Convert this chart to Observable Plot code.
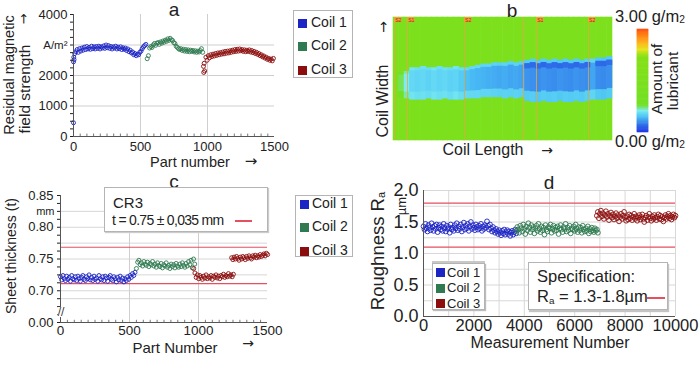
<!DOCTYPE html>
<html><head><meta charset="utf-8">
<script src="https://cdn.jsdelivr.net/npm/d3@7"></script>
<script src="https://cdn.jsdelivr.net/npm/@observablehq/plot@0.6"></script>
<style>
html,body{margin:0;padding:0;background:#fff;}
#chart{position:relative;width:700px;height:371px;overflow:hidden;background:#fff;font-family:"Liberation Sans",Arial,Helvetica,sans-serif;color:#222;}
#chart svg{position:absolute;overflow:visible;}
.lbl{position:absolute;white-space:nowrap;transform-origin:center;line-height:1;}
.box{position:absolute;background:#fff;border:1px solid #b4b4b4;box-sizing:border-box;}
.sw{position:absolute;}
</style></head><body><div id="chart"></div>
<script>
// ---------- shared ----------
const coils = ["Coil 1", "Coil 2", "Coil 3"];
const coilColors = ["#1c24c4", "#2f7a50", "#8c0d0d"];
const partTicks = [0, 500, 1000, 1500];
const partMinor = [50,100,150,200,250,300,350,400,450,550,600,650,700,750,800,850,900,950,1050,1100,1150,1200,1250,1300,1350,1400,1450];

// ---------- panel a : residual magnetic field strength ----------
const fieldStart = [0, 550, 970];
const fieldStep = 9;
const coil1Field = [2450,2720,2780,2850,2760,2880,2800,2900,2830,2930,2850,2950,2870,2920,2860,2960,2880,2940,2870,2950,
  2890,2960,2870,2940,2900,2970,2890,3000,2910,2980,2890,2950,2870,2940,2900,2960,2870,2930,2880,2940,
  2850,2910,2860,2900,2820,2870,2780,2830,2740,2770,2680,2720,2650,2700,2680,2760,2800,2880,2940,2980,3020];
const coil2Field = [2550,2650,2900,2950,2920,3000,3050,2990,3060,3080,3020,3100,3060,3130,3090,3160,3120,3200,3150,3220,
  3170,3150,3080,3050,2960,2920,2880,2850,2880,2820,2860,2800,2850,2790,2840,2780,2830,2790,2820,2770,
  2810,2760,2800,2770,2820,2880,2760];
const coil3Field = [2300,2150,2600,2500,2650,2580,2680,2620,2700,2640,2720,2660,2740,2680,2750,2700,2770,2710,2790,2730,
  2800,2740,2810,2760,2830,2780,2850,2790,2860,2800,2870,2810,2850,2790,2840,2780,2830,2790,2840,2770,
  2820,2750,2790,2720,2760,2690,2720,2650,2680,2610,2640,2570,2600,2530,2560,2500,2540,2480,2560];
const fieldExtraPart = [0, 2, 4, 972, 975];
const fieldExtraValue = [450, 2600, 2520, 2100, 2400];
const fieldExtraCoil = [0, 0, 0, 2, 2];
const fieldTicks = [0, 1000, 2000, 4000];
const fieldUnitTick = [3000];
const fieldMinor = [250,500,750,1250,1500,1750,2250,2500,2750,3250,3500,3750];

// ---------- panel b : lubricant map ----------
const lengthStep = 2.5; // % of coil length per column
const bandLow  = [null,35,34,33,33,33,34,33,33,34,33,33,33,34,34,34,35,35,35,35,34,35,34,35,32,31,31,32,31,31,32,31,31,32,31,32,33,33,33,34];
const bandHigh = [null,55,56,59,59,60,59,59,60,59,59,60,59,59,60,61,62,62,63,63,63,64,63,64,65,66,65,66,65,66,65,66,65,66,65,66,66,67,67,68];
const bandEdge = [null,0.80,0.68,0.58,0.56,0.57,0.55,0.58,0.56,0.57,0.55,0.58,0.55,0.54,0.53,0.53,0.52,0.52,0.51,0.50,0.51,0.50,0.51,0.50,0.48,0.49,0.47,0.49,0.48,0.49,0.47,0.49,0.48,0.49,0.48,0.50,0.52,0.47,0.46,0.48];
const bandCore = [null,0.74,0.62,0.53,0.52,0.53,0.51,0.54,0.52,0.53,0.51,0.52,0.48,0.44,0.42,0.41,0.40,0.39,0.38,0.37,0.38,0.36,0.37,0.35,0.31,0.30,0.29,0.31,0.30,0.29,0.31,0.30,0.29,0.31,0.30,0.29,0.36,0.29,0.28,0.30];
const bandStripe = [null,null,null,null,null,null,null,null,null,null,null,null,null,null,null,null,null,null,null,null,null,null,null,null,0.20,0.19,0.20,0.18,0.20,0.19,0.18,0.20,0.19,0.18,0.20,0.19,null,0.19,0.18,0.20];
const lubricantBackground = 1.5;
const markerPos = [0.5, 6.4, 32.4, 59.4, 65.3, 89.0];
const markerLabel = ["S2", "S1", "S2", "", "S1", "S2"];
const lubricantColor = {
  type: "linear", interpolate: "rgb",
  domain: [0, 0.2, 0.45, 0.62, 0.78, 2.2, 2.4, 2.6, 2.85, 3.0],
  range: ["#1f36e6", "#2f6ee8", "#4cc4f6", "#7cecf0", "#72e024", "#86e016", "#e6e41e", "#ffb21e", "#ff7a10", "#ff4a10"]
};

// ---------- panel c : sheet thickness ----------
const thickStart = [0, 550, 965, 1240];
const thickStep = 9;
const coil1Thickness = [0.722,0.717,0.724,0.719,0.716,0.723,0.718,0.721,0.715,0.724,0.719,0.717,0.722,0.716,0.723,0.719,0.715,0.721,0.724,0.718,
  0.716,0.722,0.719,0.725,0.717,0.721,0.716,0.723,0.718,0.720,0.715,0.724,0.719,0.717,0.722,0.716,0.723,0.720,0.715,0.721,
  0.724,0.718,0.716,0.722,0.719,0.714,0.721,0.717,0.723,0.716,0.720,0.714,0.719,0.716,0.722,0.718,0.724,0.721,0.727,0.724,0.729];
const coil2Thickness = [0.735,0.745,0.748,0.741,0.744,0.739,0.746,0.742,0.740,0.745,0.738,0.743,0.741,0.746,0.739,0.742,0.737,0.744,0.740,0.738,
  0.743,0.736,0.741,0.739,0.744,0.737,0.740,0.735,0.742,0.738,0.741,0.736,0.743,0.739,0.737,0.742,0.738,0.744,0.740,0.737,
  0.743,0.739,0.746,0.741,0.748,0.736,0.750,0.742];
const coil3aThickness = [0.735,0.728,0.721,0.725,0.719,0.724,0.721,0.718,0.723,0.720,0.725,0.719,0.722,0.720,0.724,0.718,0.723,0.721,0.725,0.720,
  0.723,0.719,0.724,0.722,0.726,0.721,0.724,0.722,0.727,0.723,0.725,0.722,0.726];
const coil3bThickness = [0.752,0.749,0.753,0.750,0.754,0.751,0.748,0.753,0.750,0.754,0.752,0.749,0.754,0.751,0.755,0.752,0.750,0.755,0.753,0.756,
  0.752,0.755,0.753,0.757,0.754,0.756,0.758,0.755,0.759,0.757];
const thickTolerance = [0.7686, 0.7112];
const thickTicks = [0.70, 0.75, 0.80, 0.85];
const thickBreakTick = [0.65]; // drawn as "0.00" below the axis break
const thickUnitTick = [0.825];
const thickGrid = [0.6875, 0.70, 0.725, 0.75, 0.775, 0.80, 0.825];
const thickMinor = [0.6625,0.675,0.6875,0.7125,0.725,0.7375,0.7625,0.775,0.7875,0.8125,0.825,0.8375];

// ---------- panel d : roughness ----------
const roughStart = [0, 3680, 6880];
const roughStep = 40;
const coil1Rough = [1.43,1.38,1.47,1.40,1.35,1.45,1.41,1.37,1.48,1.42,1.36,1.44,1.39,1.46,1.34,1.41,1.45,1.38,1.43,1.36,
  1.47,1.40,1.35,1.44,1.39,1.42,1.33,1.46,1.38,1.41,1.36,1.45,1.40,1.48,1.37,1.43,1.39,1.46,1.35,1.42,
  1.49,1.38,1.44,1.40,1.47,1.36,1.43,1.50,1.39,1.45,1.41,1.37,1.46,1.42,1.38,1.44,1.40,1.47,1.36,1.43,
  1.39,1.45,1.41,1.51,1.44,1.38,1.46,1.40,1.35,1.42,1.37,1.33,1.39,1.35,1.31,1.37,1.33,1.29,1.36,1.32,
  1.38,1.30,1.34,1.37,1.31,1.35,1.28,1.33,1.36,1.30,1.34,1.38,1.32];
const coil2Rough = [1.36,1.42,1.38,1.33,1.44,1.40,1.35,1.46,1.39,1.31,1.43,1.37,1.48,1.41,1.34,1.45,1.38,1.42,1.32,1.40,
  1.44,1.36,1.47,1.39,1.34,1.43,1.37,1.41,1.30,1.45,1.38,1.35,1.42,1.40,1.46,1.33,1.39,1.44,1.36,1.41,
  1.37,1.43,1.31,1.40,1.45,1.38,1.34,1.42,1.39,1.47,1.35,1.41,1.37,1.44,1.32,1.40,1.38,1.43,1.36,1.46,
  1.39,1.34,1.42,1.37,1.41,1.33,1.44,1.38,1.35,1.40,1.36,1.43,1.32,1.39,1.35,1.41,1.37,1.34,1.40,1.36,
  1.38,1.33];
const coil3Rough = [1.60,1.66,1.56,1.63,1.68,1.59,1.64,1.55,1.61,1.67,1.58,1.63,1.53,1.60,1.65,1.57,1.62,1.54,1.59,1.64,
  1.56,1.61,1.51,1.58,1.63,1.55,1.60,1.66,1.57,1.52,1.59,1.54,1.62,1.56,1.60,1.53,1.58,1.63,1.55,1.59,
  1.52,1.57,1.61,1.54,1.58,1.62,1.55,1.50,1.57,1.60,1.53,1.58,1.63,1.56,1.52,1.59,1.55,1.61,1.57,1.53,
  1.58,1.62,1.55,1.60,1.54,1.58,1.51,1.57,1.61,1.55,1.59,1.63,1.56,1.60,1.54,1.58,1.62,1.57,1.60];
const roughLimits = [1.8, 1.1];
const roughTicks = [0, 0.5, 1.0, 1.5, 2.0];
const measTicks = [0, 2000, 4000, 6000, 8000, 10000];
const measGrid = [1000,2000,3000,4000,5000,6000,7000,8000,9000,10000];
const roughGrid = [0.25,0.5,0.75,1.0,1.25,1.5,1.75,2.0];

// ---------- helpers ----------
const FONT = '"Liberation Sans", Arial, Helvetica, sans-serif';
const NARROW = '"Liberation Sans Narrow", "Arial Narrow", "Liberation Sans", Arial, sans-serif';
const root = document.getElementById("chart");
const plain = d => String(d);
function put(svg, x, y) { svg.style.left = x + "px"; svg.style.top = y + "px"; root.appendChild(svg); }
function label(html, cx, cy, size, o = {}) {
  const d = document.createElement("div");
  d.className = "lbl";
  d.innerHTML = html;
  d.style.fontSize = size + "px";
  d.style.left = cx + "px"; d.style.top = cy + "px";
  const tx = o.left ? "translate(0,-50%)" : "translate(-50%,-50%)";
  d.style.transform = tx + (o.rotate ? ` rotate(${o.rotate}deg)` : "");
  if (o.family) d.style.fontFamily = o.family;
  if (o.color) d.style.color = o.color;
  if (o.ls) d.style.letterSpacing = o.ls;
  if (o.bg) d.style.background = o.bg;
  root.appendChild(d);
  return d;
}
function box(x, y, w, h, shadow) {
  const b = document.createElement("div");
  b.className = "box";
  Object.assign(b.style, {left: x + "px", top: y + "px", width: w + "px", height: h + "px"});
  if (shadow) b.style.boxShadow = shadow;
  root.appendChild(b);
}
function swatch(x, cy, s, color) {
  const q = document.createElement("div");
  q.className = "sw";
  Object.assign(q.style, {left: x + "px", top: (cy - s / 2) + "px", width: s + "px", height: s + "px", background: color});
  root.appendChild(q);
}
function redline(x1, x2, y, c) {
  const q = document.createElement("div");
  q.className = "sw";
  Object.assign(q.style, {left: x1 + "px", top: (y - 0.75) + "px", width: (x2 - x1) + "px", height: "1.5px", background: c});
  root.appendChild(q);
}
function series(values, start, step, coil, xk, yk) {
  return values.map((v, i) => ({[xk]: start + i * step, [yk]: v, coil}));
}
const coilColor = {domain: coils, range: coilColors};
const baseStyle = {fontFamily: FONT, background: "transparent", color: "#222", overflow: "visible"};
const GRID = "#cfcfcf";
const AX = "#555";
const RED = "#e5505f";

// ---------- panel a ----------
const fieldData = [
  ...series(coil1Field, fieldStart[0], fieldStep, coils[0], "part", "value"),
  ...series(coil2Field, fieldStart[1], fieldStep, coils[1], "part", "value"),
  ...series(coil3Field, fieldStart[2], fieldStep, coils[2], "part", "value"),
  ...fieldExtraPart.map((p, i) => ({part: p, value: fieldExtraValue[i], coil: coils[fieldExtraCoil[i]]}))
];
const pa = Plot.plot({
  width: 290, height: 180, marginLeft: 73, marginRight: 16, marginTop: 14, marginBottom: 44,
  style: {...baseStyle, fontSize: "13px"},
  x: {domain: [0, 1500]}, y: {domain: [0, 4000]}, color: coilColor,
  marks: [
    Plot.gridX({ticks: [500, 1000], stroke: GRID, strokeOpacity: 1}),
    Plot.gridY({ticks: [1000, 2000, 3000], stroke: GRID, strokeOpacity: 1}),
    Plot.ruleX(partMinor, {y1: 0, y2: 80, stroke: "#777"}),
    Plot.dot(fieldData, {x: "part", y: "value", stroke: "coil", r: 2, strokeWidth: 0.9}),
    Plot.ruleY([0], {stroke: AX}),
    Plot.ruleX([0], {stroke: AX}),
    Plot.axisY({ticks: fieldMinor, tickSize: 3, tickFormat: () => "", label: null}),
    Plot.axisX({ticks: partTicks, tickSize: 0, tickPadding: 5, fontSize: 13, label: null, tickFormat: plain}),
    Plot.axisY({ticks: fieldTicks, tickSize: 3, tickPadding: 3, fontSize: 13, label: null, tickFormat: plain}),
    Plot.axisY({ticks: fieldUnitTick, tickSize: 3, tickPadding: 3, fontSize: 11.5, label: null, tickFormat: () => "A/m²"})
  ]
});
put(pa, 0, 0);

// ---------- panel b ----------
const cols = bandLow.map((_, i) => i);
const has = i => bandLow[i] !== null;
const bgCells = cols.map(i => ({x1: i * lengthStep, x2: (i + 1) * lengthStep, y1: 0, y2: 100, v: lubricantBackground}));
const bandCells = cols.filter(has).map(i => ({x1: i * lengthStep, x2: (i + 1) * lengthStep, y1: bandLow[i], y2: bandHigh[i], v: bandEdge[i]}));
const coreCells = cols.filter(has).map(i => {
  const h = bandHigh[i] - bandLow[i];
  return {x1: i * lengthStep, x2: (i + 1) * lengthStep, y1: bandLow[i] + 0.25 * h, y2: bandHigh[i] - 0.1 * h, v: bandCore[i]};
});
const stripeCells = cols.filter(i => bandStripe[i] !== null).map(i => {
  const h = bandHigh[i] - bandLow[i];
  return {x1: i * lengthStep, x2: (i + 1) * lengthStep, y1: bandHigh[i] - 0.2 * h, y2: bandHigh[i] - 0.08 * h, v: bandStripe[i]};
});
const markers = markerPos.map((p, i) => ({p, t: markerLabel[i]}));
const pb = Plot.plot({
  width: 270, height: 160, marginLeft: 43, marginRight: 8, marginTop: 17, marginBottom: 20,
  style: baseStyle,
  x: {domain: [0, 100], axis: null}, y: {domain: [0, 100], axis: null},
  color: lubricantColor,
  marks: [
    Plot.rect(bgCells, {x1: "x1", x2: "x2", y1: "y1", y2: "y2", fill: "v", inset: -0.3}),
    Plot.rect(bandCells, {x1: "x1", x2: "x2", y1: "y1", y2: "y2", fill: "v", inset: -0.2}),
    Plot.rect(coreCells, {x1: "x1", x2: "x2", y1: "y1", y2: "y2", fill: "v", inset: -0.2}),
    Plot.rect(stripeCells, {x1: "x1", x2: "x2", y1: "y1", y2: "y2", fill: "v", inset: -0.2}),
    Plot.ruleX(markers, {x: "p", stroke: "#e6a640", strokeWidth: 1, strokeOpacity: 0.8}),
    Plot.rect(markers.filter(d => d.t), {x1: "p", x2: d => d.p + 3.4, y1: 95.8, y2: 100, fill: "#f2a23a"}),
    Plot.text(markers.filter(d => d.t), {x: d => d.p + 1.7, y: 97.9, text: "t", fontSize: 5, fill: "#9a3000"})
  ]
});
put(pb, 350, 0);
const ramp = d3.range(0, 3, 0.025);
const pbar = Plot.plot({
  width: 25, height: 120, marginLeft: 7, marginRight: 7, marginTop: 9, marginBottom: 8,
  style: baseStyle,
  x: {domain: [0, 1], axis: null}, y: {domain: [0, 3], axis: null},
  color: lubricantColor,
  marks: [Plot.rect(ramp, {x1: 0, x2: 1, y1: d => d, y2: d => d + 0.025, fill: d => d, inset: -0.3})]
});
put(pbar, 630, 20);

// ---------- panel c ----------
const thickData = [
  ...series(coil1Thickness, thickStart[0], thickStep, coils[0], "part", "t"),
  ...series(coil2Thickness, thickStart[1], thickStep, coils[1], "part", "t"),
  ...series(coil3aThickness, thickStart[2], thickStep, coils[2], "part", "t"),
  ...series(coil3bThickness, thickStart[3], thickStep, coils[2], "part", "t")
];
const pc = Plot.plot({
  width: 290, height: 191, marginLeft: 60, marginRight: 23, marginTop: 15, marginBottom: 49,
  style: {...baseStyle, fontSize: "13px"},
  x: {domain: [0, 1500]}, y: {domain: [0.65, 0.85]}, color: coilColor,
  marks: [
    Plot.gridY({ticks: thickGrid, stroke: "#d6d6d6", strokeOpacity: 1}),
    Plot.gridX({ticks: [500, 1000], stroke: GRID, strokeOpacity: 1}),
    Plot.ruleY(thickTolerance, {stroke: RED, strokeWidth: 1.1}),
    Plot.dot(thickData, {x: "part", y: "t", stroke: "coil", r: 2, strokeWidth: 0.9}),
    Plot.ruleX(partMinor, {y1: 0.65, y2: 0.6535, stroke: "#777"}),
    Plot.ruleY([0.65], {stroke: AX}),
    Plot.ruleX([0], {stroke: AX}),
    Plot.axisY({ticks: thickMinor, tickSize: 3, tickFormat: () => "", label: null}),
    Plot.axisX({ticks: partTicks, tickSize: 0, tickPadding: 3, fontSize: 13.5, label: null, tickFormat: plain}),
    Plot.axisY({ticks: thickTicks, tickSize: 3, tickPadding: 4, fontSize: 13, label: null, tickFormat: d3.format(".2f")}),
    Plot.axisY({ticks: thickBreakTick, tickSize: 3, tickPadding: 4, fontSize: 13, label: null, tickFormat: () => "0.00"}),
    Plot.axisY({ticks: thickUnitTick, tickSize: 0, tickPadding: 6, fontSize: 11, label: null, tickFormat: () => "mm"})
  ]
});
put(pc, 0, 180);

// ---------- panel d ----------
const roughData = [
  ...series(coil1Rough, roughStart[0], roughStep, coils[0], "m", "ra"),
  ...series(coil2Rough, roughStart[1], roughStep, coils[1], "m", "ra"),
  ...series(coil3Rough, roughStart[2], roughStep, coils[2], "m", "ra")
];
const pd = Plot.plot({
  width: 350, height: 191, marginLeft: 73, marginRight: 25, marginTop: 10, marginBottom: 55,
  style: {...baseStyle, fontSize: "16px"},
  x: {domain: [0, 10000]}, y: {domain: [0, 2]}, color: coilColor,
  marks: [
    Plot.gridX({ticks: measGrid, stroke: "#d8d8d8", strokeOpacity: 1}),
    Plot.gridY({ticks: roughGrid, stroke: "#d8d8d8", strokeOpacity: 1}),
    Plot.ruleY(roughLimits, {stroke: RED, strokeWidth: 1.2}),
    Plot.dot(roughData, {x: "m", y: "ra", stroke: "coil", r: 2.4, strokeWidth: 0.9}),
    Plot.ruleY([0], {stroke: AX}),
    Plot.ruleX([0], {stroke: AX}),
    Plot.axisX({ticks: measTicks, tickSize: 0, tickPadding: 3, fontSize: 16.5, label: null, tickFormat: plain}),
    Plot.axisY({ticks: roughTicks, tickSize: 0, tickPadding: 5, fontSize: 18, label: null, tickFormat: d3.format(".1f")})
  ]
});
put(pd, 350, 180);

// ---------- titles & axis labels ----------
label("a", 174, 9, 19);
label("b", 512, 10, 19);
label("c", 174, 181, 19);
label("d", 549, 182, 19);

label("Part number", 190, 162, 14.5);
label("→", 251, 161, 15, {family: "DejaVu Sans"});
label("Residual magnetic", 9, 75, 14.5, {rotate: -90});
label("field strength", 25, 89, 15.5, {rotate: -90});
label("→", 23, 19, 13, {rotate: -90, family: "DejaVu Sans"});

label("Coil Width", 383, 101, 16, {rotate: -90});
label("→", 383, 27, 14, {rotate: -90, family: "DejaVu Sans"});
label("Coil Length", 483, 150, 16);
label("→", 547, 150, 14, {family: "DejaVu Sans"});
label('3.00 g/m<span style="font-size:0.62em;vertical-align:-0.1em">2</span>', 615, 17, 16.5, {left: true});
label('0.00 g/m<span style="font-size:0.62em;vertical-align:-0.1em">2</span>', 615, 142, 16.5, {left: true});
label("Amount of", 657, 79, 15.5, {rotate: -90});
label("lubricant", 673, 81, 15.5, {rotate: -90});

label("Part Number", 175, 347, 15);
label("→", 248, 343, 14, {family: "DejaVu Sans"});
label("Sheet thickness (t)", 11, 256, 14, {rotate: -90});
label("//", 61, 312, 10, {bg: "#fff", family: "DejaVu Sans"});

label("Measurement Number", 550, 343, 16);
label('Roughness R<span style="font-size:0.6em;vertical-align:-0.15em">a</span>', 378, 251, 18.5, {rotate: -90});
label("µm", 401, 206, 13, {rotate: -90});

// ---------- legends & annotation boxes ----------
function coilLegend(bx, by, bw, bh, ys, size, sq, sqx, tx, family, shadow) {
  box(bx, by, bw, bh, shadow);
  coils.forEach((c, i) => {
    swatch(sqx, ys[i] + 1, sq, coilColors[i]);
    label(c, tx, ys[i], size, {left: true, family});
  });
}
coilLegend(293, 10, 60, 68, [22, 45, 69], 14, 9, 298, 311, FONT);
coilLegend(295, 195, 58, 62, [203, 226, 250], 14, 9, 300, 312, FONT);

box(104, 187, 164, 45, "1px 1px 1px #ccc");
label("CR3", 113, 202, 15, {left: true});
label("t = 0.75 ± 0,035 mm", 112, 220, 14, {left: true, ls: "-0.7px"});
redline(235, 252, 221, RED);

coilLegend(432, 263, 53, 47, [271.5, 287, 302.5], 13, 9, 436, 447, NARROW, "0 -2px 0 #c8c8c8, 1px 1px 1px #bbb");
box(528, 262, 140, 48, "1px 2px 1px #c4c4c4");
label("Specification:", 537, 276, 16.5, {left: true});
label('R<span style="font-size:0.6em;vertical-align:-0.15em">a</span> = 1.3-1.8µm', 537, 297, 16.5, {left: true});
redline(647, 665, 298, RED);
</script></body></html>
